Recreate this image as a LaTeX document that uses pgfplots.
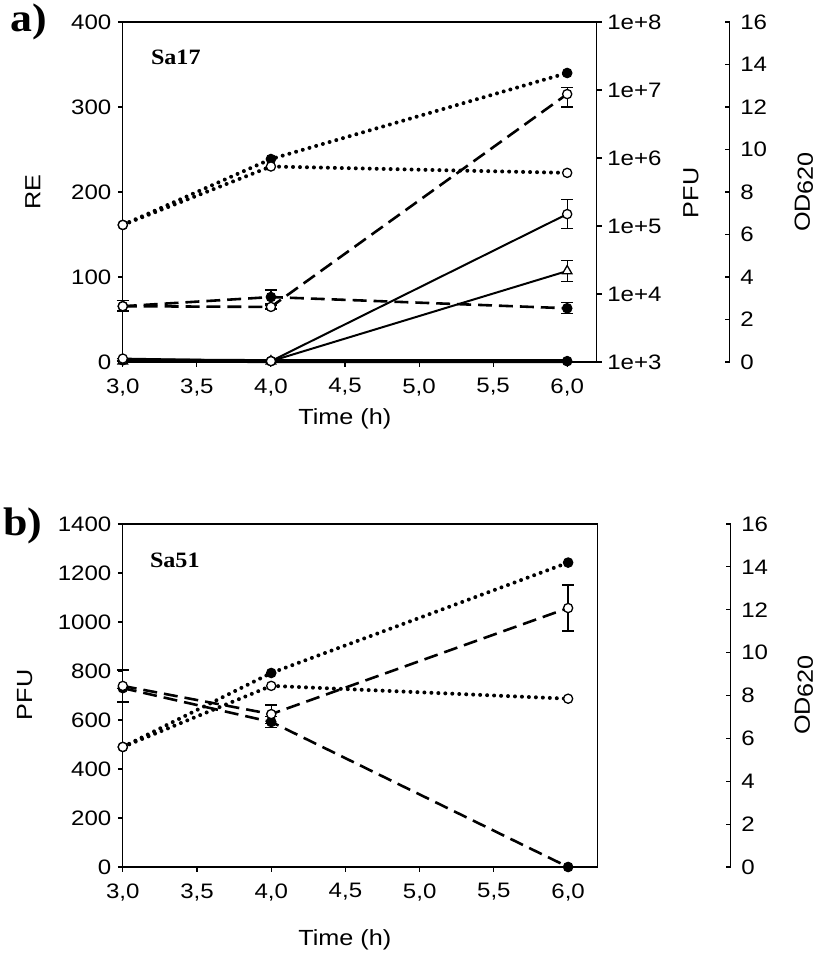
\documentclass[border=0pt]{standalone}
\usepackage{fontspec}
\setmainfont[FakeStretch=1.15]{Liberation Sans}
\newfontfamily\serif[FakeStretch=1.1]{Liberation Serif}
\usepackage{pgfplots}
\pgfplotsset{compat=1.18}

\pgfplotsset{
  base/.style={scale only axis, xmin=3, xmax=6.2,
    tick align=outside, major tick length=5bp,
    every tick/.style={black, line width=1.1pt},
    axis line style={line width=1.1pt},
    /pgf/number format/assume math mode=true,
    /pgf/number format/1000 sep={},
    tick label style={font=\fontsize{21}{23}\selectfont},
    clip=false},
  xaxis/.style={xtick={3,3.5,...,6}, xtick pos=left,
    xticklabel={\pgfmathprintnumber[fixed,fixed zerofill,precision=1,use comma]{\tick}},
    xticklabel style={yshift=-8bp}},
  noxaxis/.style={axis x line=none},
  dots/.style={black, line width=4pt, line cap=round, dash pattern=on 0pt off 7pt},
  dash/.style={black, line width=2.6pt, dash pattern=on 14pt off 7pt},
  solidl/.style={black, line width=2pt},
  fc/.style={mark=*, mark size=4.8bp, mark options={solid, fill=black, line width=1pt}},
  oc/.style={mark=*, mark size=4.6bp, mark options={solid, fill=white, line width=1.3pt}},
  ot/.style={mark=triangle*, mark size=5.5bp, mark options={solid, fill=white, line width=1.3pt}},
  eb/.style={error bars/.cd, y dir=both, y explicit,
    error bar style={solid, line width=1.3pt},
    error mark options={rotate=90, mark size=6bp, line width=1.3pt, solid}},
  odaxis/.style={noxaxis, axis y line*=right, ymin=0, ymax=16, ytick={0,2,...,16},
    tick align=inside,
    y axis line style={xshift=133bp}, ytick style={xshift=133bp},
    yticklabel style={xshift=140bp}},
}

\begin{document}
\begin{tikzpicture}
\path (0bp,0bp) rectangle (816bp,956bp);

% ---------- panel a ----------
\begin{axis}[base, xaxis, at={(120bp,594bp)}, anchor=south west, width=474bp, height=340bp,
  ymin=0, ymax=400, ytick={0,100,...,400}, ytick pos=left,
  yticklabel style={xshift=-3bp}]
\addplot[black, line width=4pt, fc] coordinates {(3,2) (4,1) (6,1)};
\addplot[solidl, ot, eb] coordinates {(3,1) +- (0,0) (4,1) +- (0,0) (6,107) +- (0,12)};
\addplot[solidl, oc, eb] coordinates {(3,4) +- (0,0) (4,1) +- (0,0) (6,174) +- (0,17)};
\end{axis}

% PFU in log10 units (1e+3 ... 1e+8)
\begin{axis}[base, noxaxis, at={(120bp,594bp)}, anchor=south west, width=474bp, height=340bp,
  ymin=3, ymax=8, axis y line*=right,
  ytick={3,4,5,6,7,8},
  yticklabels={1e+3,1e+4,1e+5,1e+6,1e+7,1e+8},
  yticklabel style={xshift=2bp}]
\addplot[dash, fc, eb] coordinates {(3,3.82) += (0,0.08) -= (0,0.07)
  (4,3.955) += (0,0.105) -= (0,0.1) (6,3.79) += (0,0.08) -= (0,0.075)};
\addplot[dash, oc, eb] coordinates {(3,3.82) += (0,0.08) -= (0,0.07)
  (4,3.81) += (0,0.03) -= (0,0.03) (6,6.94) += (0,0.1) -= (0,0.19)};
\end{axis}

\begin{axis}[base, odaxis, at={(120bp,594bp)}, anchor=south west, width=474bp, height=340bp]
\addplot[dots, fc] coordinates {(3,6.45) (4,9.55) (6,13.6)};
\addplot[dots, oc] coordinates {(3,6.45) (4,9.2) (6,8.9)};
\end{axis}

\node[font=\serif\bfseries\fontsize{40}{44}\selectfont] at (26bp,934bp) {a)};
\node[font=\serif\bfseries\fontsize{22}{24}\selectfont] at (173bp,899bp) {Sa17};
\node[rotate=90, font=\fontsize{22}{24}\selectfont] at (30bp,764bp) {RE};
\node[rotate=90, font=\fontsize{22}{24}\selectfont] at (688bp,763bp) {PFU};
\node[rotate=90, font=\fontsize{22}{24}\selectfont] at (801bp,764bp) {OD\raisebox{-3pt}{620}};
\node[font=\fontsize{22}{24}\selectfont] at (342bp,537bp) {Time (h)};

% ---------- panel b ----------
\begin{axis}[base, xaxis, at={(120bp,89bp)}, anchor=south west, width=475bp, height=343bp,
  ymin=0, ymax=1400, ytick={0,200,...,1400}, ytick pos=left,
  yticklabel style={xshift=-3bp}]
\addplot[dash, fc, eb] coordinates {(3,730) +- (0,0) (4,592) +- (0,22) (6,0) +- (0,0)};
\addplot[dash, oc, eb] coordinates {(3,739) +- (0,65) (4,624) +- (0,37) (6,1057) +- (0,94)};
\end{axis}

\begin{axis}[base, odaxis, at={(120bp,89bp)}, anchor=south west, width=475bp, height=343bp]
\addplot[dots, fc] coordinates {(3,5.6) (4,9.05) (6,14.2)};
\addplot[dots, oc] coordinates {(3,5.6) (4,8.45) (6,7.85)};
\end{axis}

\node[font=\serif\bfseries\fontsize{40}{44}\selectfont] at (20bp,430bp) {b)};
\node[font=\serif\bfseries\fontsize{22}{24}\selectfont] at (172bp,396bp) {Sa51};
\node[rotate=90, font=\fontsize{22}{24}\selectfont] at (22bp,261bp) {PFU};
\node[rotate=90, font=\fontsize{22}{24}\selectfont] at (801bp,261bp) {OD\raisebox{-3pt}{620}};
\node[font=\fontsize{22}{24}\selectfont] at (342bp,16bp) {Time (h)};
\end{tikzpicture}
\end{document}
